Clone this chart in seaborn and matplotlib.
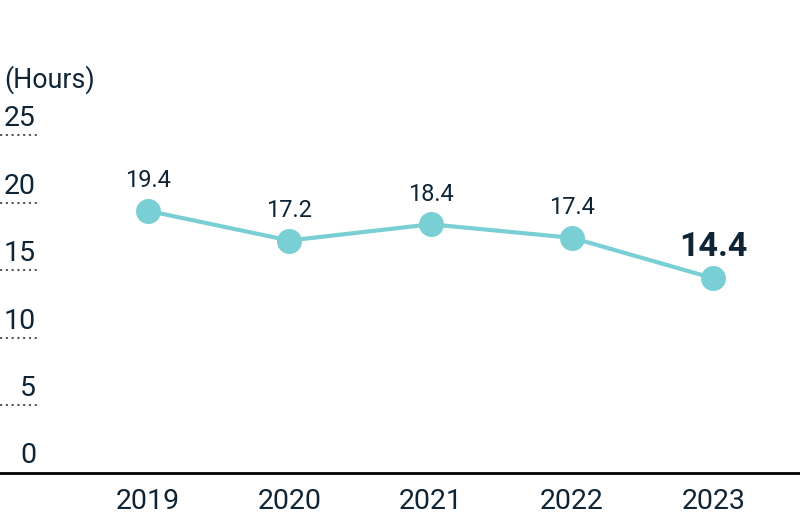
import pandas as pd
import seaborn as sns
import matplotlib.pyplot as plt

# Data
years = ["2019", "2020", "2021", "2022", "2023"]
hours = [19.4, 17.2, 18.4, 17.4, 14.4]
y_ticks = [0, 5, 10, 15, 20, 25]

teal = "#79cfd4"
ink = "#0f2536"

sns.set_theme(style="white")
plt.rcParams["font.family"] = ["Roboto", "DejaVu Sans"]

df = pd.DataFrame({"pos": range(len(years)), "year": years, "hours": hours})

fig = plt.figure(figsize=(8, 5.2), dpi=100)
ax = fig.add_axes([0, 1 - 472.5 / 520, 1, (472.5 - 135.3) / 520])

sns.lineplot(data=df, x="pos", y="hours", ax=ax, color=teal, linewidth=3,
             marker="o", markersize=18, markeredgewidth=0, markeredgecolor=teal)

ax.set_xlim(-1.047, 4.614)
ax.set_ylim(0, 25)
for s in ["top", "right", "left"]:
    ax.spines[s].set_visible(False)
ax.spines["bottom"].set_color("black")
ax.spines["bottom"].set_linewidth(2)

ax.set_xticks(df["pos"])
ax.set_xticklabels(years, fontsize=20.5, color=ink)
ax.tick_params(axis="x", length=0, pad=11)
ax.set_yticks([])
ax.set_xlabel("")
ax.set_ylabel("")

# y tick labels with short dotted lines
for t in y_ticks:
    if t > 0:
        ax.axhline(t, xmin=0, xmax=0.05, color="#4a4a4a", linestyle=(0, (1.2, 2.0)),
                   linewidth=1.3, clip_on=False)
    ax.annotate(str(t), xy=(0.045, t), xycoords=("axes fraction", "data"),
                xytext=(0, 6.5), textcoords="offset points",
                ha="right", va="baseline", fontsize=20.5, color=ink)

ax.text(0.005, 1.14, "(Hours)", transform=ax.transAxes,
        fontsize=19.3, color=ink, ha="left", va="baseline")

# value labels
for i, v in enumerate(hours):
    last = i == len(hours) - 1
    ax.annotate(f"{v}", xy=(i, v), xytext=(0, 16 if last else 17),
                textcoords="offset points", ha="center", va="baseline",
                fontsize=24.5 if last else 17, fontweight="bold" if last else "normal",
                color=ink)

fig.savefig("out.png", dpi=100)
